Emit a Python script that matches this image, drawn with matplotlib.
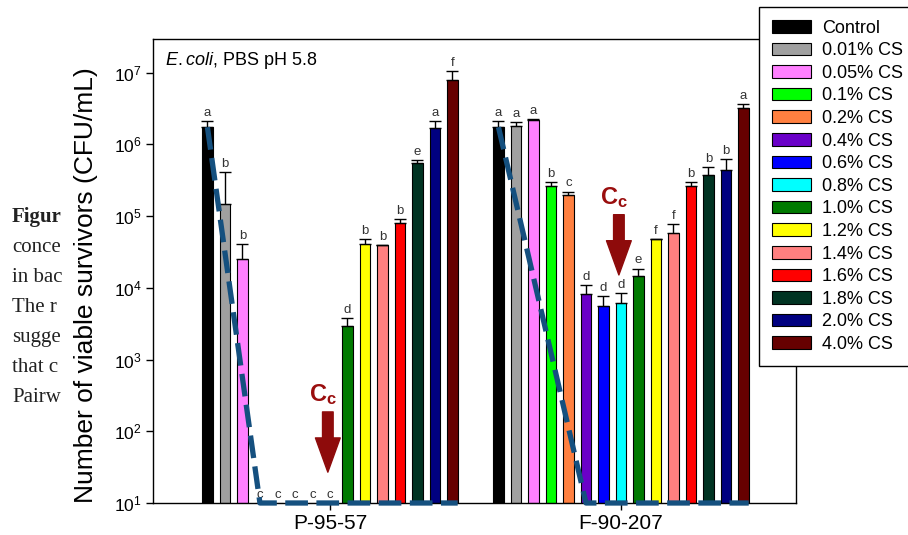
import matplotlib
matplotlib.use("Agg")
import matplotlib.pyplot as plt
import numpy as np
from matplotlib.patches import Patch
from matplotlib.transforms import Bbox, TransformedBbox
from matplotlib.ticker import LogLocator, NullLocator

plt.rcParams['font.family'] = ['Liberation Sans', 'DejaVu Sans']
plt.rcParams['mathtext.fontset'] = 'custom'
plt.rcParams['mathtext.rm'] = 'Liberation Sans'
plt.rcParams['mathtext.it'] = 'Liberation Sans:italic'
plt.rcParams['mathtext.bf'] = 'Liberation Sans:bold'

# ---------------- data ----------------
treatments = ["Control", "0.01% CS", "0.05% CS", "0.1% CS", "0.2% CS", "0.4% CS",
              "0.6% CS", "0.8% CS", "1.0% CS", "1.2% CS", "1.4% CS", "1.6% CS",
              "1.8% CS", "2.0% CS", "4.0% CS"]
colors = ["#000000", "#a0a0a0", "#ff80ff", "#00ff00", "#ff8040", "#6a00c8",
          "#0000ff", "#00ffff", "#007a00", "#ffff00", "#ff8080", "#ff0000",
          "#003322", "#000080", "#660000"]
strains = ["P-95-57", "F-90-207"]

p95_values = [1.74e6, 1.5e5, 2.5e4, 10, 10, 10, 10, 10,
              2.95e3, 4.1e4, 3.9e4, 7.9e4, 5.5e5, 1.7e6, 7.9e6]
p95_errors = [0.4e6, 2.6e5, 1.6e4, 0, 0, 0, 0, 0,
              0.85e3, 0.7e4, 0.1e4, 1.2e4, 0.5e5, 0.4e6, 2.6e6]
p95_letters = ["a", "b", "b", "c", "c", "c", "c", "c",
               "d", "b", "b", "b", "e", "a", "f"]

f90_values = [1.74e6, 1.78e6, 2.2e6, 2.63e5, 2.0e5, 8.3e3, 5.6e3, 6.17e3,
              1.44e4, 4.8e4, 5.9e4, 2.6e5, 3.8e5, 4.47e5, 3.24e6]
f90_errors = [0.4e6, 0.25e6, 0.05e6, 0.4e5, 0.2e5, 2.7e3, 2.0e3, 2.2e3,
              0.42e4, 0.05e4, 1.9e4, 0.4e5, 1.0e5, 1.7e5, 0.4e6]
f90_letters = ["a", "a", "a", "b", "c", "d", "d", "d",
               "e", "f", "f", "b", "b", "b", "a"]

# trend line: from control top down to the bar index where it reaches the baseline
trend_zero_index = [3, 5]
# critical concentration (Cc) arrow: bar index, tail value, tip value, label value
cc_index = 7
cc_arrow_tail = [10 ** 2.27, 10 ** 5.02]
cc_arrow_tip = [10 ** 1.43, 10 ** 4.18]
cc_label_y = [10 ** 2.42, 10 ** 5.17]

y_min, y_max = 10, 10 ** 7.47
group_centers = [0.0, 16.63]

side_text = ["Figur", "conce", "in bac", "The r", "sugge", "that c", "Pairw"]

# ---------------- figure ----------------
W, H = 908, 535
fig = plt.figure(figsize=(W / 100, H / 100), dpi=100)

# background paper text, clipped where the chart image begins
clip = TransformedBbox(Bbox([[0, 0], [65 / W, 1]]), fig.transFigure)
for i, t in enumerate(side_text):
    txt = fig.text(12 / W, 1 - (222 + 30 * i) / H, t, family=['Liberation Serif', 'DejaVu Serif'],
                   fontsize=15, fontweight='bold' if i == 0 else 'normal',
                   color='#222222', va='baseline', ha='left')
    txt.set_clip_box(clip)
    txt.set_clip_on(True)

ax = fig.add_axes([153 / W, (H - 503) / H, 643 / W, 464 / H])
ax.set_yscale('log')
ax.set_ylim(y_min, y_max)
ax.set_xlim(-10.11, 26.63)

width = 0.6
n = len(treatments)
offsets = np.arange(n) - (n - 1) / 2

groups = [(p95_values, p95_errors, p95_letters), (f90_values, f90_errors, f90_letters)]
dash_color = "#15507f"
for g, (vals, errs, lets) in enumerate(groups):
    xs = group_centers[g] + offsets
    vals = np.asarray(vals, float)
    errs = np.asarray(errs, float)
    ax.bar(xs, vals - y_min, bottom=y_min, width=width, color=colors,
           edgecolor='black', linewidth=0.8, zorder=2)
    has_err = errs > 0
    ax.errorbar(xs[has_err], vals[has_err], yerr=[np.zeros(has_err.sum()), errs[has_err]],
                fmt='none', ecolor='black', elinewidth=1.0, capsize=4.5, capthick=1.0, zorder=3)
    for x, v, e, l in zip(xs, vals, errs, lets):
        ax.annotate(l, xy=(x, v + e), xytext=(0, 1.5), textcoords='offset points',
                    ha='center', va='bottom', fontsize=9.5, color='#333333', zorder=4)
    # dashed trend line
    k = trend_zero_index[g]
    tx = [xs[0], xs[k], xs[-1] + width / 2]
    ty = [vals[0], y_min, y_min]
    ax.plot(tx, ty, color=dash_color, linewidth=3.8, dashes=(4.3, 1.6),
            solid_capstyle='butt', dash_capstyle='butt', clip_on=False, zorder=5)
    # Cc arrow
    ax_x = xs[cc_index] - 0.12
    ax.annotate('', xy=(ax_x, cc_arrow_tip[g]), xytext=(ax_x, cc_arrow_tail[g]),
                arrowprops=dict(arrowstyle='simple,head_length=1.45,head_width=1.05,tail_width=0.45',
                                mutation_scale=17, color='#8e0b0b', shrinkA=0, shrinkB=0),
                zorder=6)
    ax.text(ax_x - 0.3, cc_label_y[g], r'$\mathbf{C}_{\mathbf{c}}$', color='#9a0e0e',
            fontsize=17, ha='center', va='baseline', zorder=6)

ax.set_xticks(group_centers)
ax.set_xticklabels(strains, fontsize=15)
ax.yaxis.set_major_locator(LogLocator(base=10, numticks=10))
ax.yaxis.set_minor_locator(NullLocator())
ax.tick_params(axis='y', direction='out', length=5, width=1, labelsize=12.5, pad=3)
ax.tick_params(axis='x', direction='out', length=5, width=1, pad=3)
for s in ax.spines.values():
    s.set_linewidth(1.0)

ax.set_ylabel("Number of viable survivors (CFU/mL)", fontsize=19, va='center')
ax.yaxis.set_label_coords((86 - 153) / 643, (503 - 285.5) / 464)

ax.text((165 - 153) / 643, (503 - 50) / 464, r'$\it{E.coli}$, PBS pH 5.8',
        transform=ax.transAxes, fontsize=13, ha='left', va='top')

handles = [Patch(facecolor=c, edgecolor='black', linewidth=0.8) for c in colors]
leg = fig.legend(handles, treatments, loc='upper left',
                 bbox_to_anchor=(759 / W, 1 - 7 / H), bbox_transform=fig.transFigure,
                 borderaxespad=0, fontsize=13, handlelength=2.2, handleheight=0.7,
                 handletextpad=0.6, labelspacing=0.31, borderpad=0.7,
                 fancybox=False, framealpha=1, edgecolor='black')
leg.get_frame().set_linewidth(1.0)

fig.savefig("out.png", dpi=100)
